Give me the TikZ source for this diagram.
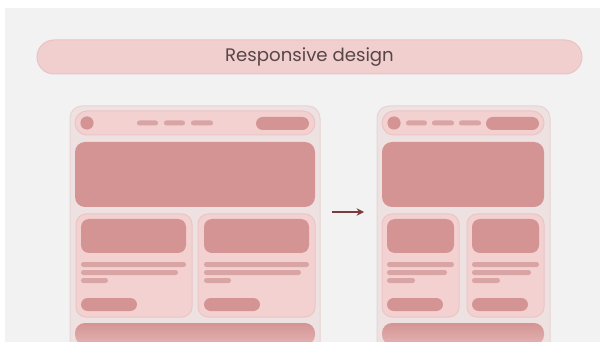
\documentclass[tikz,border=0pt]{standalone}
\usepackage{fontspec}
\setmainfont{Poppins}
\usetikzlibrary{arrows.meta}

\definecolor{bggray}{HTML}{F2F2F2}
\definecolor{pillpink}{HTML}{F2CFCF}
\definecolor{pilledge}{HTML}{EBC2C2}
\definecolor{framefill}{HTML}{EEE1E1}
\definecolor{frameedge}{HTML}{E9D3D3}
\definecolor{barfill}{HTML}{F3D1D1}
\definecolor{baredge}{HTML}{EBC5C5}
\definecolor{blockpink}{HTML}{D59494}
\definecolor{linepink}{HTML}{D8A4A4}
\definecolor{inktext}{HTML}{574647}
\definecolor{arrowred}{HTML}{7B3C41}
\definecolor{fadepink}{HTML}{E3B3B3}

\tikzset{every picture/.style={line width=0.75pt}}
\tikzset{
  frame/.style={draw=frameedge, fill=framefill, rounded corners=9pt},
  bar/.style={draw=baredge, fill=barfill, rounded corners=9pt},
  card/.style={draw=baredge, fill=barfill, rounded corners=7.5pt},
  block/.style={fill=blockpink, rounded corners=7.5pt},
  pic/.style={fill=blockpink, rounded corners=6pt},
  btn/.style={fill=blockpink, rounded corners=4.9pt},
  txtline/.style={fill=linepink, rounded corners=1.8pt},
  fadeblock/.style={top color=blockpink, bottom color=fadepink, shading angle=0},
}

\begin{document}
\begin{tikzpicture}[x=0.75pt,y=0.75pt,yscale=-1,xscale=1]
	\useasboundingbox (0,0) rectangle (600,342);
	\clip (0,0) rectangle (600,342);

	%Background
	\fill [white] (0,0) rectangle (600,342);
	\fill [bggray] (5,8) rectangle (600,342);

	%Title pill
	\draw [draw=pilledge, fill=pillpink, rounded corners=12.75pt] (37,40) rectangle (582,74);
	% Text Node
	\draw (309.5,57.5) node [text=inktext, font=\fontsize{13.6}{16}\selectfont] (title) {Responsive design};

	%%%%% wide layout
	\draw [frame] (70,106) rectangle (320,400);
	%Nav bar
	\draw [bar] (75,111) rectangle (315,135);
	\fill [blockpink] (87,123) circle [radius=6.6];
	\fill [txtline] (137,120.5) rectangle (158,125.5);
	\fill [txtline] (164,120.5) rectangle (185,125.5);
	\fill [txtline] (191,120.5) rectangle (213,125.5);
	\fill [btn] (256,117) rectangle (309,130);
	%Hero
	\fill [block] (75,142) rectangle (315,207);
	%Cards
	\draw [card] (76,214) rectangle (192,317);
	\draw [card] (198,214) rectangle (315,317);
	\fill [pic] (81,219) rectangle (186,253);
	\fill [pic] (204,219) rectangle (309,253);
	\fill [txtline] (81,262) rectangle (186,267);
	\fill [txtline] (81,270) rectangle (178,275);
	\fill [txtline] (81,278) rectangle (108,283);
	\fill [txtline] (204,262) rectangle (309,267);
	\fill [txtline] (204,270) rectangle (301,275);
	\fill [txtline] (204,278) rectangle (231,283);
	\fill [btn] (81,298) rectangle (137,311);
	\fill [btn] (204,298) rectangle (260,311);
	%Footer
	\shade [fadeblock, rounded corners=7.5pt] (75,323) -- (75,345) -- (315,345) -- (315,323) -- cycle;

	%Straight Lines
	\coordinate (from) at (332,212);
	\coordinate (to) at (364,212);
	\draw [arrowred, line width=1.1pt, -{Stealth[length=5.5pt,width=5.5pt]}] (from) -- (to);

	%%%%% narrow layout
	\draw [frame] (377,106) rectangle (550,400);
	%Nav bar
	\draw [bar] (382,111) rectangle (544,135);
	\fill [blockpink] (394,123) circle [radius=6.6];
	\fill [txtline] (406,120.5) rectangle (427,125.5);
	\fill [txtline] (432,120.5) rectangle (454,125.5);
	\fill [txtline] (459,120.5) rectangle (481,125.5);
	\fill [btn] (486,117) rectangle (539,130);
	%Hero
	\fill [block] (382,142) rectangle (544,207);
	%Cards
	\draw [card] (382,214) rectangle (459,317);
	\draw [card] (467,214) rectangle (544,317);
	\fill [pic] (387,219) rectangle (454,253);
	\fill [pic] (472,219) rectangle (539,253);
	\fill [txtline] (387,262) rectangle (454,267);
	\fill [txtline] (387,270) rectangle (447,275);
	\fill [txtline] (387,278) rectangle (415,283);
	\fill [txtline] (472,262) rectangle (539,267);
	\fill [txtline] (472,270) rectangle (531,275);
	\fill [txtline] (472,278) rectangle (500,283);
	\fill [btn] (387,298) rectangle (443,311);
	\fill [btn] (472,298) rectangle (528,311);
	%Footer
	\shade [fadeblock, rounded corners=7.5pt] (382,323) -- (382,345) -- (544,345) -- (544,323) -- cycle;

\end{tikzpicture}
\end{document}
